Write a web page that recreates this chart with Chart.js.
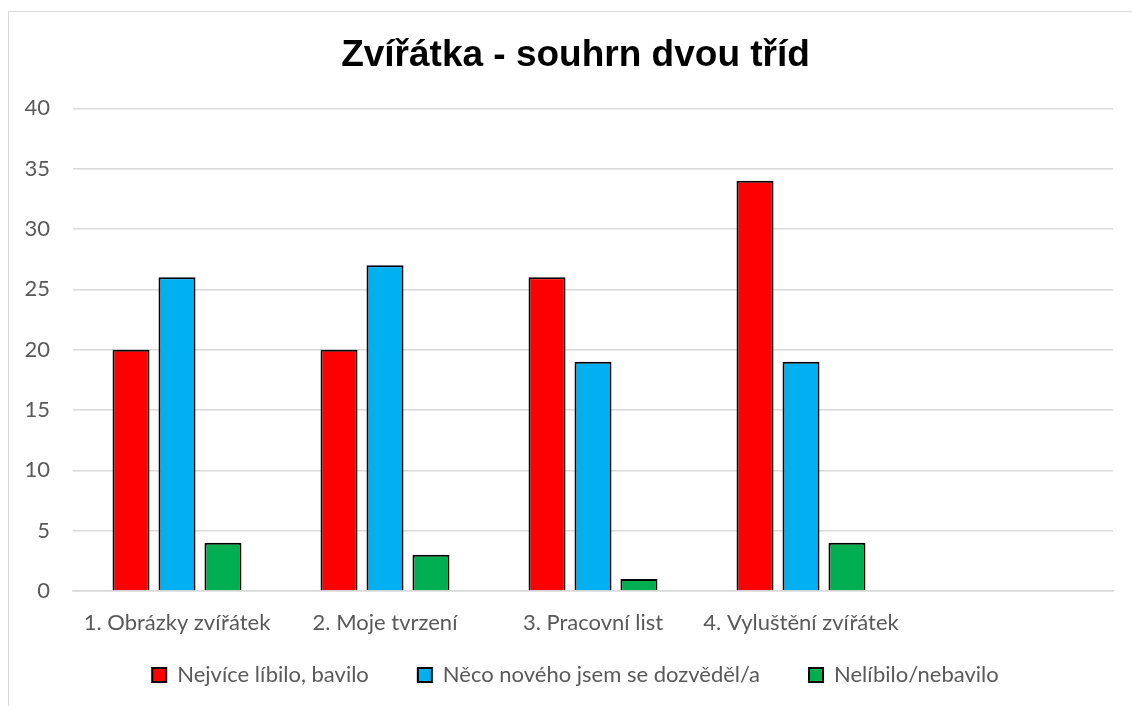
<!DOCTYPE html>
<html>
<head>
<meta charset="utf-8">
<script src="https://cdn.jsdelivr.net/npm/chart.js@4/dist/chart.umd.min.js"></script>
<style>
  html, body { margin: 0; padding: 0; background: #fff; }
  #wrap { position: relative; width: 1132px; height: 706px; overflow: hidden; }
  #frame { position: absolute; left: 8px; top: 11px; width: 1300px; height: 900px; border: 1.5px solid #d9d9d9; box-sizing: border-box; }
  #c { position: absolute; left: 0; top: 0; }
</style>
</head>
<body>
<div id="wrap">
  <div id="frame"></div>
  <canvas id="c" width="1132" height="706"></canvas>
</div>
<script>
const titleText = 'Zvířátka - souhrn dvou tříd';
const categories = ['1. Obrázky zvířátek', '2. Moje tvrzení', '3. Pracovní list', '4. Vyluštění zvířátek', ''];
const seriesNames = ['Nejvíce líbilo, bavilo', 'Něco nového jsem se dozvěděl/a', 'Nelíbilo/nebavilo'];
const likedValues = [20, 20, 26, 34, null];
const learnedValues = [26, 27, 19, 19, null];
const dislikedValues = [4, 3, 1, 4, null];
const seriesColors = ['#FF0000', '#00B0F0', '#00B050'];

const labelFont = { family: 'Lato, "Open Sans", sans-serif', size: 22 };
const noClip = (scale) => { scale._computeLabelArea = () => undefined; };

new Chart(document.getElementById('c'), {
  type: 'bar',
  data: {
    labels: categories,
    datasets: [likedValues, learnedValues, dislikedValues].map((vals, i) => ({
      label: seriesNames[i],
      data: vals,
      backgroundColor: seriesColors[i],
      borderColor: '#000000',
      borderWidth: 2,
      categoryPercentage: 0.663,
      barPercentage: 0.805
    }))
  },
  options: {
    responsive: false,
    animation: false,
    devicePixelRatio: 1,
    layout: { padding: { left: 38, right: 19, top: 0, bottom: 10 } },
    plugins: {
      tooltip: { enabled: false },
      title: {
        display: true,
        text: titleText,
        color: '#000000',
        font: { family: '"Liberation Sans", Arial, sans-serif', size: 37, weight: 'bold', lineHeight: 1.2 },
        padding: { top: 34, bottom: 30 }
      },
      legend: {
        position: 'bottom',
        labels: {
          boxWidth: 14,
          boxHeight: 14,
          padding: 49,
          color: '#595959',
          font: labelFont,
          generateLabels(chart) {
            return chart.data.datasets.map((ds, i) => ({
              text: ds.label,
              fillStyle: ds.backgroundColor,
              strokeStyle: '#000000',
              lineWidth: 2,
              fontColor: '#595959',
              hidden: false,
              datasetIndex: i
            }));
          }
        }
      }
    },
    scales: {
      x: {
        grid: { display: false, drawTicks: false },
        border: { display: true, color: '#d9d9d9', width: 1.5 },
        ticks: { color: '#595959', font: labelFont, padding: 19, maxRotation: 0, autoSkip: false },
        afterFit(scale) { scale.height = 24; noClip(scale); }
      },
      y: {
        min: 0,
        max: 40,
        ticks: { stepSize: 5, color: '#595959', font: labelFont, padding: 23 },
        grid: { color: '#d9d9d9', lineWidth: 1.5, drawTicks: false },
        border: { display: false },
        afterFit(scale) { scale.width = 35; noClip(scale); }
      }
    }
  }
});
</script>
</body>
</html>
